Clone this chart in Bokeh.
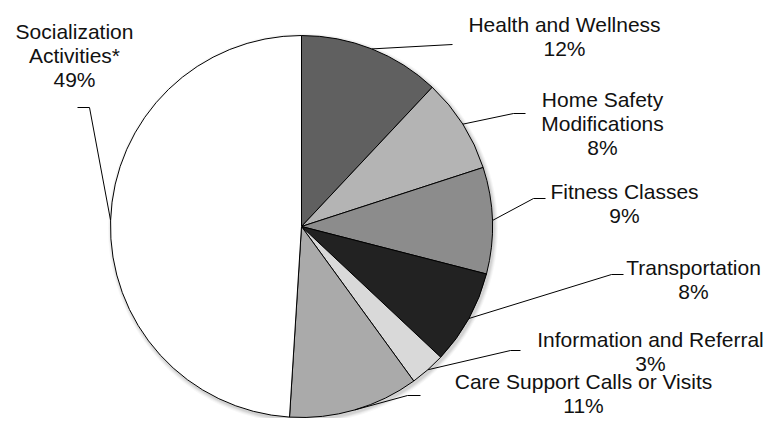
import math
from bokeh.plotting import figure
from bokeh.models import ColumnDataSource, Range1d
from bokeh.core.properties import value
from bokeh.embed import file_html
from bokeh.resources import INLINE

# ---- data ----
categories = ["Health and Wellness", "Home Safety\nModifications", "Fitness Classes",
              "Transportation", "Information and Referral",
              "Care Support Calls or Visits", "Socialization\nActivities*"]
percents = [12, 8, 9, 8, 3, 11, 49]
colors = ["#606060", "#b4b4b4", "#8c8c8c", "#222222", "#d9d9d9", "#aaaaaa", "#ffffff"]

# ---- layout (picture pixel positions) ----
W, H = 764, 418
def dx(x):
    return x
def dy(y):
    return H - y

CX, CY, R = 301, 226, 191
label_pos = [(564, 32), (602, 107), (624, 199), (693, 275), (650, 347), (583, 389), (74, 39)]
leader_pts = [[(452, 44)], [(513, 113), (525, 113)], [(533, 198), (545, 198)],
              [(611, 274), (623, 274)], [(510, 350), (520, 350)],
              [(407, 395), (420, 395)], [(89, 107), (77, 107)]]
LINE = 24.0
TEXT_SHIFT = 8  # renderer draws the alphabetic baseline lower than requested

p = figure(width=W, height=H, x_range=Range1d(0, W), y_range=Range1d(0, H),
           x_axis_type=None, y_axis_type=None, toolbar_location=None,
           output_backend="svg", min_border=0)
p.grid.visible = False
p.outline_line_color = None
p.background_fill_color = "white"

# soft shadow
for k, a in [(4, 0.03), (3, 0.04), (2, 0.05), (1, 0.06)]:
    p.circle(x=[dx(CX + 1.5)], y=[dy(CY + 2)], radius=R + k,
             fill_color="black", fill_alpha=a, line_color=None)

total = float(sum(percents))
starts, ends, mids = [], [], []
cum = 0.0
for v in percents:
    f0 = cum / total
    f1 = (cum + v) / total
    starts.append(math.pi / 2 - 2 * math.pi * f0)
    ends.append(math.pi / 2 - 2 * math.pi * f1)
    mids.append(2 * math.pi * (f0 + f1) / 2)
    cum += v

src = ColumnDataSource(dict(x=[dx(CX)] * len(percents), y=[dy(CY)] * len(percents),
                            start=starts, end=ends, color=colors, cat=categories, pct=percents))
p.wedge(x="x", y="y", radius=R, start_angle="start", end_angle="end",
        direction="clock", fill_color="color", line_color="black", line_width=1, source=src)

# leader lines
xs, ys = [], []
for m, pts in zip(mids, leader_pts):
    sx = CX + R * math.sin(m)
    sy = CY - R * math.cos(m)
    xs.append([dx(sx)] + [dx(q[0]) for q in pts])
    ys.append([dy(sy)] + [dy(q[1]) for q in pts])
p.multi_line(xs=xs, ys=ys, line_color="black", line_width=1)

# labels
tx, ty, tt = [], [], []
for cat, v, (lx, ly) in zip(categories, percents, label_pos):
    lines = cat.split("\n") + [f"{v}%"]
    for i, ln in enumerate(lines):
        tx.append(dx(lx))
        ty.append(dy(ly + i * LINE - TEXT_SHIFT))
        tt.append(ln)
p.text(x=tx, y=ty, text=tt, text_align="center", text_baseline="alphabetic",
       text_font=value("Liberation Sans"), text_font_size="21px", text_color="#111111")

open("out.html", "w").write(file_html(p, INLINE))
